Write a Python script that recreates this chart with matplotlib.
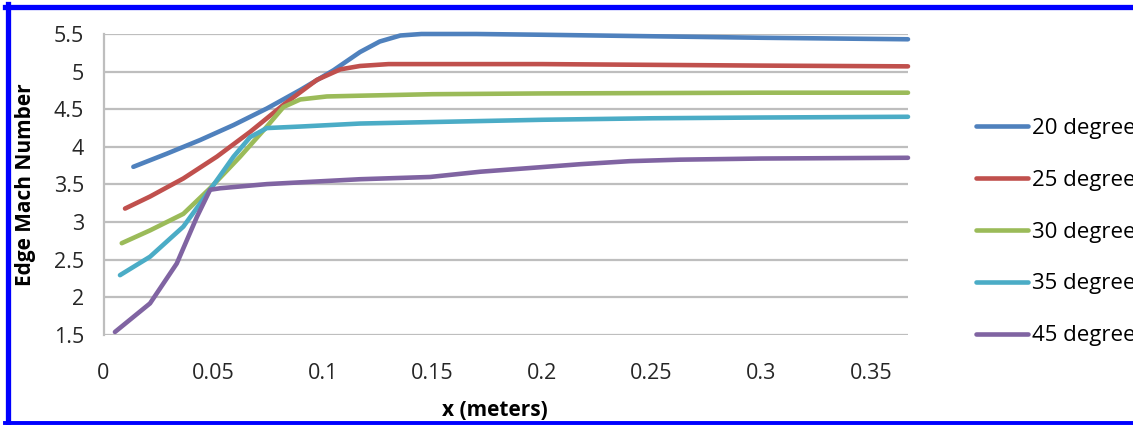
import matplotlib
matplotlib.use("Agg")
import matplotlib.pyplot as plt
from matplotlib.lines import Line2D

plt.rcParams['font.family'] = ['Open Sans', 'DejaVu Sans']

# edge Mach number along the cone surface
x_20 = [0.0136, 0.0289, 0.044, 0.0593, 0.0745, 0.0897, 0.105, 0.117, 0.126, 0.1354, 0.145, 0.17, 0.2, 0.25, 0.3, 0.367]
m_20 = [3.735, 3.91, 4.09, 4.29, 4.51, 4.755, 5.02, 5.26, 5.40, 5.48, 5.50, 5.50, 5.49, 5.47, 5.45, 5.43]

x_25 = [0.0098, 0.0212, 0.0364, 0.0517, 0.0669, 0.0821, 0.0973, 0.108, 0.117, 0.13, 0.2, 0.25, 0.3, 0.367]
m_25 = [3.18, 3.34, 3.58, 3.87, 4.2, 4.56, 4.89, 5.03, 5.075, 5.10, 5.10, 5.09, 5.08, 5.07]

x_30 = [0.0083, 0.0212, 0.0364, 0.0486, 0.0623, 0.0745, 0.0821, 0.0897, 0.1019, 0.117, 0.15, 0.2, 0.3, 0.367]
m_30 = [2.72, 2.89, 3.11, 3.45, 3.87, 4.27, 4.53, 4.63, 4.67, 4.68, 4.70, 4.71, 4.72, 4.72]

x_35 = [0.0075, 0.0212, 0.0364, 0.0486, 0.0593, 0.0669, 0.0745, 0.0897, 0.117, 0.15, 0.2, 0.25, 0.3, 0.367]
m_35 = [2.295, 2.54, 2.94, 3.43, 3.87, 4.13, 4.25, 4.27, 4.31, 4.33, 4.36, 4.38, 4.39, 4.40]

x_45 = [0.0052, 0.0212, 0.0334, 0.0426, 0.0486, 0.0532, 0.0745, 0.117, 0.149, 0.172, 0.195, 0.2176, 0.24, 0.263, 0.3, 0.367]
m_45 = [1.54, 1.92, 2.45, 3.07, 3.43, 3.45, 3.505, 3.57, 3.60, 3.67, 3.72, 3.77, 3.81, 3.83, 3.845, 3.855]

labels = ["20 degrees", "25 degrees", "30 degrees", "35 degrees", "45 degrees"]
colors = ["#4F81BD", "#C0504D", "#9BBB59", "#4BACC6", "#8064A2"]
xticks = [0, 0.05, 0.1, 0.15, 0.2, 0.25, 0.3, 0.35]
xtick_labels = ["0", "0.05", "0.1", "0.15", "0.2", "0.25", "0.3", "0.35"]
yticks = [1.5, 2, 2.5, 3, 3.5, 4, 4.5, 5, 5.5]
ytick_labels = ["1.5", "2", "2.5", "3", "3.5", "4", "4.5", "5", "5.5"]

fig = plt.figure(figsize=(11.33, 4.25), dpi=100)
ax = fig.add_axes([0.0914, 0.2118, 0.7100, 0.7082])

series = [(x_20, m_20), (x_25, m_25), (x_30, m_30), (x_35, m_35), (x_45, m_45)]
for (xs, ms), lab, c in zip(series, labels, colors):
    ax.plot(xs, ms, color=c, lw=3.3, label=lab, solid_capstyle='round',
            solid_joinstyle='round', clip_on=False, zorder=3)

ax.set_xlim(0, 0.367)
ax.set_ylim(1.5, 5.5)
ax.set_xticks(xticks)
ax.set_xticklabels(xtick_labels)
ax.set_yticks(yticks)
ax.set_yticklabels(ytick_labels)
ax.tick_params(axis='both', length=0, labelsize=15.5, colors='#262626')
ax.tick_params(axis='x', pad=20)
ax.tick_params(axis='y', pad=14)
ax.grid(axis='y', color='#BEBEBE', lw=1.6)
ax.set_axisbelow(True)
for s in ['top', 'right', 'bottom']:
    ax.spines[s].set_visible(False)
ax.spines['left'].set_color('#BEBEBE')
ax.spines['left'].set_linewidth(1.6)

ax.set_xlabel("x (meters)", fontsize=15, fontweight='bold')
ax.set_ylabel("Edge Mach Number", fontsize=15, fontweight='bold')
ax.xaxis.set_label_coords(0.487, -0.215)
ax.yaxis.set_label_coords(-0.084, 0.5)

fig.legend(loc='upper left', bbox_to_anchor=(0.8614, 0.723), frameon=False,
           fontsize=16, handlelength=2.35, handletextpad=0.18, labelspacing=1.39,
           borderpad=0, borderaxespad=0)

# blue frame on top, left and bottom
W, H = 1133, 425
fig.add_artist(Line2D([5 / W, 1], [1 - 6.5 / H, 1 - 6.5 / H], color='#0000FF', lw=3.8, transform=fig.transFigure))
fig.add_artist(Line2D([7.5 / W, 7.5 / W], [1 - 4 / H, 1 - 424 / H], color='#0000FF', lw=3.8, transform=fig.transFigure))
fig.add_artist(Line2D([5 / W, 1], [1 - 422.5 / H, 1 - 422.5 / H], color='#0000FF', lw=2.8, transform=fig.transFigure))

fig.savefig("out.png", dpi=100)
